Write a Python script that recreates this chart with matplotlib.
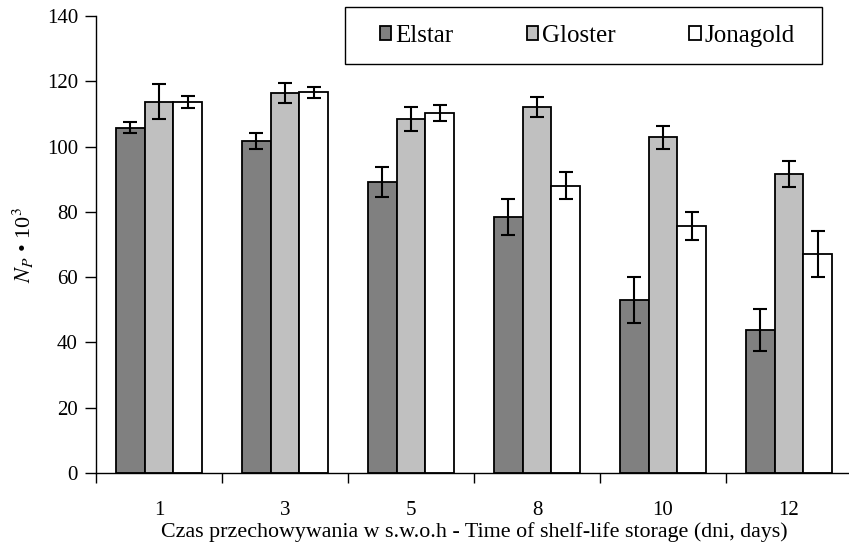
import numpy as np
import matplotlib
matplotlib.use('Agg')
import matplotlib.pyplot as plt
from matplotlib.patches import Rectangle

plt.rcParams['font.family'] = ['Liberation Serif', 'DejaVu Serif']
plt.rcParams['mathtext.fontset'] = 'stix'

days = ['1', '3', '5', '8', '10', '12']
elstar = [105.8, 101.7, 89.2, 78.4, 52.9, 43.8]
elstar_err = [1.75, 2.5, 4.6, 5.5, 7.1, 6.5]
gloster = [113.7, 116.3, 108.5, 112.1, 102.9, 91.5]
gloster_err = [5.4, 3.1, 3.7, 3.0, 3.5, 4.0]
jonagold = [113.7, 116.6, 110.2, 88.0, 75.7, 67.1]
jonagold_err = [1.9, 1.8, 2.5, 4.1, 4.3, 7.1]

series = [
    ('Elstar', elstar, elstar_err, '#808080'),
    ('Gloster', gloster, gloster_err, '#c0c0c0'),
    ('Jonagold', jonagold, jonagold_err, '#ffffff'),
]

W, H = 849, 550
fig = plt.figure(figsize=(W / 100, H / 100), dpi=100)
ax = fig.add_axes([96 / W, 77 / H, 756 / W, 457 / H])

x = np.arange(len(days))
w = 0.23
for i, (name, vals, errs, col) in enumerate(series):
    ax.bar(x + (i - 1) * w, vals, w, color=col, edgecolor='black',
           linewidth=1.3, label=name, zorder=2)
    ax.errorbar(x + (i - 1) * w, vals, yerr=errs, fmt='none', ecolor='black',
                elinewidth=1.5, capsize=5, capthick=1.5, zorder=3)

ax.set_xlim(-0.5, len(days) - 0.5)
ax.set_ylim(0, 140)
ax.set_yticks(np.arange(0, 141, 20))
ax.tick_params(axis='y', labelsize=15, length=8, width=1, direction='out', pad=5)

# category labels at centres, tick marks at the boundaries
ax.set_xticks(x)
ax.set_xticklabels(days, fontsize=15)
ax.set_xticks(np.arange(-0.5, len(days), 1.0), minor=True)
ax.tick_params(axis='x', which='major', length=0, pad=20)
ax.tick_params(axis='x', which='minor', length=7, width=1, direction='out')

for s in ['top', 'right']:
    ax.spines[s].set_visible(False)
ax.spines['left'].set_linewidth(1)
ax.spines['bottom'].set_linewidth(1)

ax.set_xlabel('Czas przechowywania w s.w.o.h - Time of shelf-life storage (dni, days)',
              fontsize=15.8, labelpad=2)
ax.set_ylabel(r'$N_P$ • 10$^3$', fontsize=16, labelpad=8)

# legend entries without their own frame, boxed separately
leg = fig.legend(*ax.get_legend_handles_labels(), ncol=3, loc='center left',
                 bbox_to_anchor=(380 / W, 1 - 36 / H), bbox_transform=fig.transFigure,
                 fontsize=18, frameon=False,
                 handlelength=0.45, handleheight=0.45, handletextpad=0.15,
                 columnspacing=2.95, borderpad=0, borderaxespad=0)
fig.patches.append(Rectangle((345 / W, 1 - 64 / H), 477 / W, 57 / H,
                             transform=fig.transFigure, fill=False,
                             edgecolor='black', linewidth=1))

fig.savefig('out.png', dpi=100)
